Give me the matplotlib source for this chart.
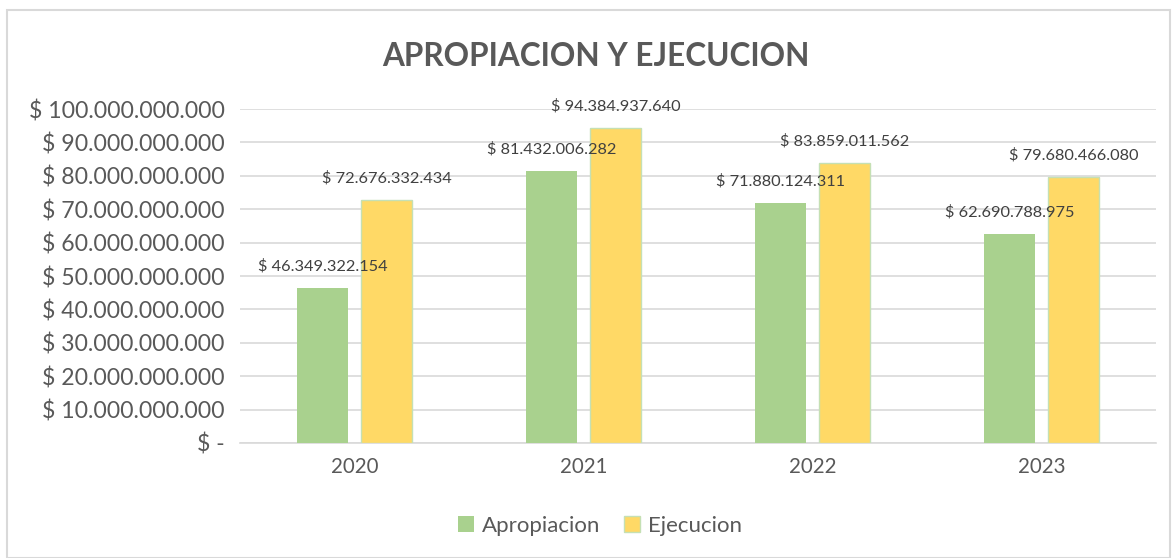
import numpy as np
import matplotlib.pyplot as plt
from matplotlib.patches import Rectangle
from matplotlib.ticker import FuncFormatter

years = ["2020", "2021", "2022", "2023"]
apropiacion = [46349322154, 81432006282, 71880124311, 62690788975]
ejecucion = [72676332434, 94384937640, 83859011562, 79680466080]

plt.rcParams['font.family'] = ['Lato', 'DejaVu Sans']
txt = '#595959'


def pesos(v):
    if v == 0:
        return "$ -"
    return "$ " + f"{v:,.0f}".replace(",", ".")


fig = plt.figure(figsize=(11.72, 5.58), dpi=100)
ax = fig.add_axes([240 / 1172, 1 - 443 / 558, 916 / 1172, 334 / 558])

x = np.arange(len(years))
w = 0.223
off = 0.14
b1 = ax.bar(x - off, apropiacion, w, color='#A9D18E', label='Apropiacion', zorder=3)
b2 = ax.bar(x + off, ejecucion, w, color='#FFD966', edgecolor='#C5E0B4',
            linewidth=1, label='Ejecucion', zorder=3)

for bars, vals in ((b1, apropiacion), (b2, ejecucion)):
    for r, v in zip(bars, vals):
        ax.annotate(pesos(v), (r.get_x() + r.get_width() / 2, v),
                    xytext=(0, 15.5), textcoords='offset points',
                    ha='center', va='center', fontsize=11.8, color='#404040', zorder=4)

ax.set_xlim(-0.5, len(years) - 0.5)
ax.set_ylim(0, 100e9)
ax.set_yticks(np.arange(0, 100e9 + 1, 10e9))
ax.yaxis.set_major_formatter(FuncFormatter(lambda v, p: pesos(v)))
ax.set_xticks(x)
ax.set_xticklabels(years)
ax.tick_params(axis='y', length=0, labelsize=16.6, colors=txt, pad=11)
ax.tick_params(axis='x', length=0, labelsize=14.8, colors=txt, pad=10)
ax.grid(axis='y', color='#D9D9D9', linewidth=1.2, zorder=0)
for s in ('top', 'right', 'left'):
    ax.spines[s].set_visible(False)
ax.spines['bottom'].set_color('#D9D9D9')
ax.spines['bottom'].set_linewidth(1.2)

fig.text(596 / 1172, 1 - 56 / 558, "APROPIACION Y EJECUCION", ha='center', va='center',
         fontsize=22.7, fontweight='bold', color=txt)

fig.legend(loc='center', bbox_to_anchor=(600 / 1172, 1 - 526 / 558), ncol=2,
           frameon=False, fontsize=16, handlelength=0.7, handleheight=0.7,
           handletextpad=0.35, columnspacing=1.1, labelcolor=txt)

fig.patches.append(Rectangle((7 / 1172, 0), 1 - 7 / 1172 - 2 / 1172, 1 - 10 / 558,
                             transform=fig.transFigure, fill=False,
                             edgecolor='#D9D9D9', linewidth=1.5))

fig.savefig('out.png', dpi=100)
